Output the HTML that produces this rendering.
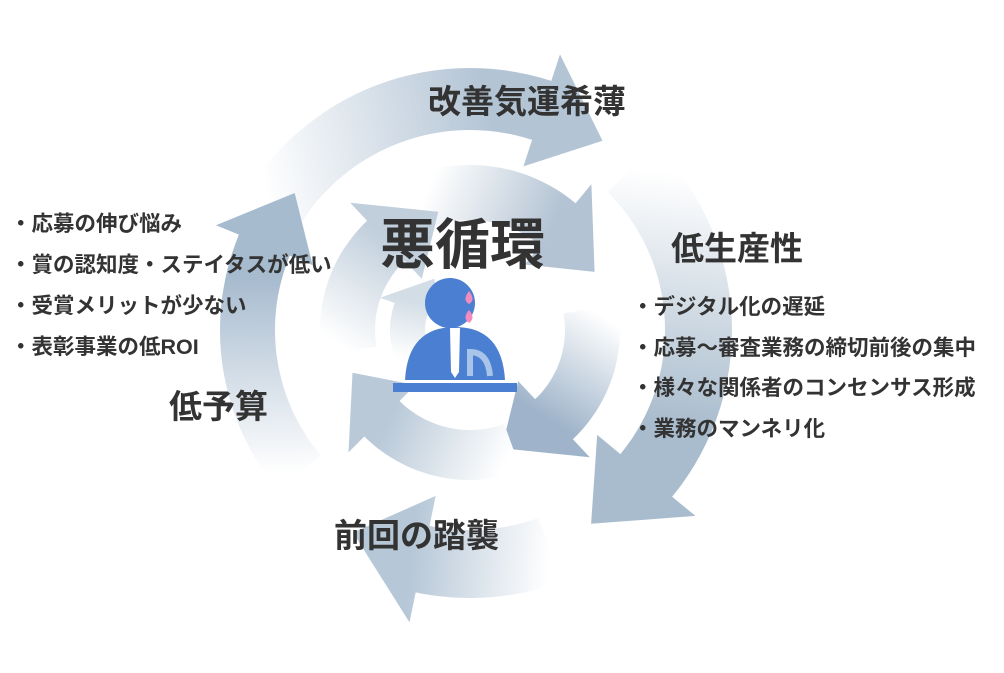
<!DOCTYPE html>
<html><head><meta charset="utf-8"><style>
body{margin:0;background:#fff;width:1004px;height:673px;overflow:hidden;position:relative;font-family:"Liberation Sans","Noto Sans CJK JP",sans-serif;color:#333}
svg{position:absolute;left:0;top:0}
.t{position:absolute;font-weight:bold;white-space:nowrap;line-height:1}
.h{font-size:33px}
.b{font-size:21.5px;font-weight:bold}
</style></head><body>
<svg id="s" width="1004" height="673" viewBox="0 0 1004 673"></svg>
<div class="t h" style="left:428px;top:85px">改善気運希薄</div>
<div class="t h" style="left:671px;top:232px">低生産性</div>
<div class="t h" style="left:169px;top:390px">低予算</div>
<div class="t h" style="left:334px;top:519px">前回の踏襲</div>
<div class="t" style="left:380px;top:218px;font-size:55px">悪循環</div>
<div class="t b" style="left:10px;top:204px;line-height:41px">・応募の伸び悩み<br>・賞の認知度・ステイタスが低い<br>・受賞メリットが少ない<br>・表彰事業の低ROI</div>
<div class="t b" style="left:632px;top:287px;line-height:40.5px">・デジタル化の遅延<br>・応募～審査業務の締切前後の集中<br>・様々な関係者のコンセンサス形成<br>・業務のマンネリ化</div>
<script>
var s=document.getElementById('s'),cx=470,cy=330,h='',defs='',n=0;
function P(a,r){a=a*Math.PI/180;return [cx+r*Math.cos(a),cy+r*Math.sin(a)];}
function arrow(a0,a1,ri,ro,col){var rm=(ri+ro)/2,w=ro-ri,ah=a1-(w*1.1/rm)*180/Math.PI;
var p=[],N=30,i;
for(i=0;i<=N;i++)p.push(P(a0+(ah-a0)*i/N,ro));
p.push(P(ah,ro+w*0.45));p.push(P(a1,rm));p.push(P(ah,ri-w*0.45));
for(i=N;i>=0;i--)p.push(P(a0+(ah-a0)*i/N,ri));
var t=P(a0,rm),e=P(a1,rm),id='g'+(n++);
defs+='<linearGradient id="'+id+'" gradientUnits="userSpaceOnUse" x1="'+t[0]+'" y1="'+t[1]+'" x2="'+e[0]+'" y2="'+e[1]+'"><stop offset="0" stop-color="#fff"/><stop offset="0.7" stop-color="'+col+'"/><stop offset="1" stop-color="'+col+'"/></linearGradient>';
h+='<path d="M'+p.map(function(q){return q[0].toFixed(1)+','+q[1].toFixed(1)}).join('L')+'Z" fill="url(#'+id+')"/>';}
arrow(-150,-55,200,262,'#b3c4d5');
arrow(-45,58,195,262,'#a9bccd');
arrow(70,120,200,268,'#b6c7d7');
arrow(140,218,195,250,'#a7bbcf');
arrow(-110,-25,110,165,'#b3c3d3');
arrow(-10,75,95,150,'#9fb4ca');
arrow(70,160,100,150,'#b9c9d8');
arrow(170,255,95,150,'#c1cfdc');
arrow(150,235,45,80,'#d3dde6');
s.innerHTML='<defs>'+defs+'</defs>'+h+
'<path d="M405,380 Q408,327 455,327 Q502,327 505,380Z" fill="#4b7fd2"/>'+
'<path d="M450,328 L460,328 L459,372 L455,378 L451,372Z" fill="#fff"/>'+
'<path d="M470,376 L470,352 Q488,352 490,376" fill="none" stroke="#a8c4e8" stroke-width="6"/>'+
'<circle cx="450" cy="303" r="25" fill="#4b7fd2"/>'+
'<path d="M469,291 Q476,300 469,304 Q462,300 469,291Z" fill="#f08cc0"/>'+
'<path d="M469,310 Q476,318 469,323 Q462,318 469,310Z" fill="#f08cc0"/>'+
'<rect x="393" y="383" width="124" height="9" fill="#4b7fd2"/>';
</script>
</body></html>
